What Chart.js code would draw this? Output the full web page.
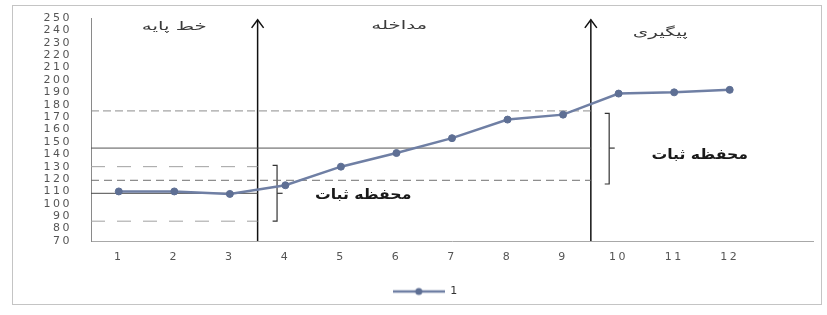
<!DOCTYPE html>
<html><head><meta charset="utf-8">
<script src="https://cdn.jsdelivr.net/npm/chart.js@4.4.0/dist/chart.umd.min.js"></script>
<style>html,body{margin:0;padding:0;background:#fff;}#wrap{width:827px;height:315px;}</style>
</head><body><div id="wrap"><canvas id="c" width="827" height="315"></canvas></div>
<script>
// ---- data ----
const sessions = [1,2,3,4,5,6,7,8,9,10,11,12];
const scores = [110,110,108,115,130,141,153,168,172,189,190,192];
const yTicks = [70,80,90,100,110,120,130,140,150,160,170,180,190,200,210,220,230,240,250];
const seriesLabel = '1';
const phaseNames = ['خط پایه','مداخله','پیگیری'];
const phaseLabelX = [2, 6.05, 10.75];
const phaseLabelY = [243, 244, 238];
const phaseChanges = [3.5, 9.5];
const envelopeLabel = 'محفظه ثبات';
const envelopeLabelX = [5.4, 11.46];
const envelopeLabelY = [106.5, 139];
const envelopeX = [3.85, 9.83];
const envelopeLow = [86, 116];
const envelopeHigh = [131, 173];
const envelopeMid = [108.5, 145];
const refValues = [175, 145, 130, 119, 108.5, 86];
const refStart = [0.5, 0.5, 0.5, 0.5, 0.5, 0.5];
const refEnd = [9.5, 9.5, 3.5, 9.5, 3.5, 3.5];

// ---- styles ----
const BLUE = '#6f7fa4';
const MARK = '#5e6f94';
const refStyles = [
  {color:'#8c8c8c', dash:[8,4]},
  {color:'#555555', dash:[]},
  {color:'#a0a0a0', dash:[14,12]},
  {color:'#707070', dash:[8,5]},
  {color:'#4a4a4a', dash:[]},
  {color:'#a0a0a0', dash:[14,12]}
];

const legendImg = (() => {
  const c = document.createElement('canvas'); c.width = 52; c.height = 10;
  const g = c.getContext('2d');
  g.strokeStyle = BLUE; g.lineWidth = 2.5;
  g.beginPath(); g.moveTo(0,5); g.lineTo(52,5); g.stroke();
  g.fillStyle = MARK; g.beginPath(); g.arc(26,5,3.5,0,Math.PI*2); g.fill();
  return c;
})();

const datasets = [];
datasets.push({
  label: seriesLabel,
  data: sessions.map((s,i)=>({x:s, y:scores[i]})),
  borderColor: BLUE, backgroundColor: MARK, borderWidth: 2.5,
  pointRadius: 3.5, pointBackgroundColor: MARK, pointBorderColor: MARK, pointBorderWidth: 1
});
refValues.forEach((v,i)=>{
  datasets.push({
    label: 'ref'+i,
    data: [{x:refStart[i], y:v},{x:refEnd[i], y:v}],
    borderColor: refStyles[i].color, borderDash: refStyles[i].dash, borderWidth: 1,
    pointRadius: 0
  });
});
phaseChanges.forEach((x,i)=>{
  datasets.push({
    label: 'phase'+i,
    data: [{x:x, y:yTicks[0]},{x:x, y:248.5}],
    borderColor: '#111', borderWidth: 1.5, pointRadius: 0
  });
});
envelopeX.forEach((x,i)=>{
  datasets.push({
    label: 'env'+i,
    data: [{x:x-0.08, y:envelopeHigh[i]},{x:x, y:envelopeHigh[i]},{x:x, y:envelopeLow[i]},{x:x-0.08, y:envelopeLow[i]}],
    borderColor: '#333', borderWidth: 1.2, pointRadius: 0
  });
  datasets.push({
    label: 'envmid'+i,
    data: [{x:x, y:envelopeMid[i]},{x:x+0.1, y:envelopeMid[i]}],
    borderColor: '#333', borderWidth: 1.2, pointRadius: 0
  });
});

function stretchedText(ctx, t, x, y, sx) {
  ctx.save();
  ctx.translate(x, y);
  ctx.scale(sx, 1);
  ctx.fillText(t, 0, 0);
  ctx.restore();
}

const decor = {
  id: 'decor',
  beforeDraw(chart) {
    const ctx = chart.ctx;
    ctx.save();
    ctx.fillStyle = '#fff'; ctx.fillRect(0,0,chart.width,chart.height);
    ctx.strokeStyle = '#c4c4c4'; ctx.lineWidth = 1;
    ctx.strokeRect(12.5, 5.5, 809, 299);
    ctx.restore();
    ctx.letterSpacing = '2.5px';
  },
  afterDatasetsDraw(chart) {
    const ctx = chart.ctx, xs = chart.scales.x, ys = chart.scales.y;
    ctx.save();
    ctx.strokeStyle = '#111'; ctx.lineWidth = 1.5;
    phaseChanges.forEach(x=>{
      const px = xs.getPixelForValue(x), py = ys.getPixelForValue(248.5);
      ctx.beginPath(); ctx.moveTo(px-6, py+8); ctx.lineTo(px, py); ctx.lineTo(px+6, py+8); ctx.stroke();
    });
    ctx.restore();
  },
  afterDraw(chart) {
    const ctx = chart.ctx, xs = chart.scales.x, ys = chart.scales.y;
    ctx.save();
    ctx.letterSpacing = '0px';
    ctx.textAlign = 'center'; ctx.textBaseline = 'middle';
    ctx.fillStyle = '#3a3a3a';
    ctx.font = '12px "DejaVu Sans"';
    phaseNames.forEach((t,i)=>{
      stretchedText(ctx, t, xs.getPixelForValue(phaseLabelX[i]), ys.getPixelForValue(phaseLabelY[i]), 1.65);
    });
    ctx.fillStyle = '#1a1a1a';
    ctx.font = 'bold 14px "DejaVu Sans"';
    envelopeLabelX.forEach((x,i)=>{
      stretchedText(ctx, envelopeLabel, xs.getPixelForValue(x), ys.getPixelForValue(envelopeLabelY[i]), 1.12);
    });
    ctx.restore();
    ctx.letterSpacing = '0px';
  }
};

new Chart(document.getElementById('c'), {
  type: 'line',
  data: { datasets },
  options: {
    responsive: false, animation: false,
    layout: { padding: { left: 37, right: 14, top: 18, bottom: 8 } },
    plugins: {
      tooltip: { enabled: false },
      legend: {
        position: 'bottom',
        labels: {
          usePointStyle: true, pointStyleWidth: 52, padding: 10,
          color: '#333', font: { family: 'DejaVu Sans', size: 11 },
          generateLabels(chart) {
            const items = Chart.defaults.plugins.legend.labels.generateLabels(chart).filter(it=>it.datasetIndex===0);
            items.forEach(it=>{ it.pointStyle = legendImg; });
            return items;
          }
        }
      }
    },
    scales: {
      x: {
        type: 'linear', min: 0.5, max: 13.5,
        afterBuildTicks(scale) { scale.ticks = sessions.map(v=>({value:v})); },
        afterFit(scale) { scale.height = 35; },
        ticks: { autoSkip: false, maxRotation: 0, padding: 10, color: '#555', font: { family: 'DejaVu Sans', size: 11 }, callback: v => String(v) },
        grid: { display: true, drawOnChartArea: false, drawTicks: false },
        border: { display: true, color: '#a8a8a8', width: 1 }
      },
      y: {
        type: 'linear', min: 70, max: 250,
        afterBuildTicks(scale) { scale.ticks = yTicks.map(v=>({value:v})); },
        afterFit(scale) { scale.width = 54; },
        ticks: { autoSkip: false, padding: 0, color: '#555', font: { family: 'DejaVu Sans', size: 11 } },
        grid: { display: true, drawOnChartArea: false, drawTicks: true, tickLength: 19, color: 'rgba(0,0,0,0)' },
        border: { display: true, color: '#8a8a8a', width: 1 }
      }
    }
  },
  plugins: [decor]
});
</script></body></html>
